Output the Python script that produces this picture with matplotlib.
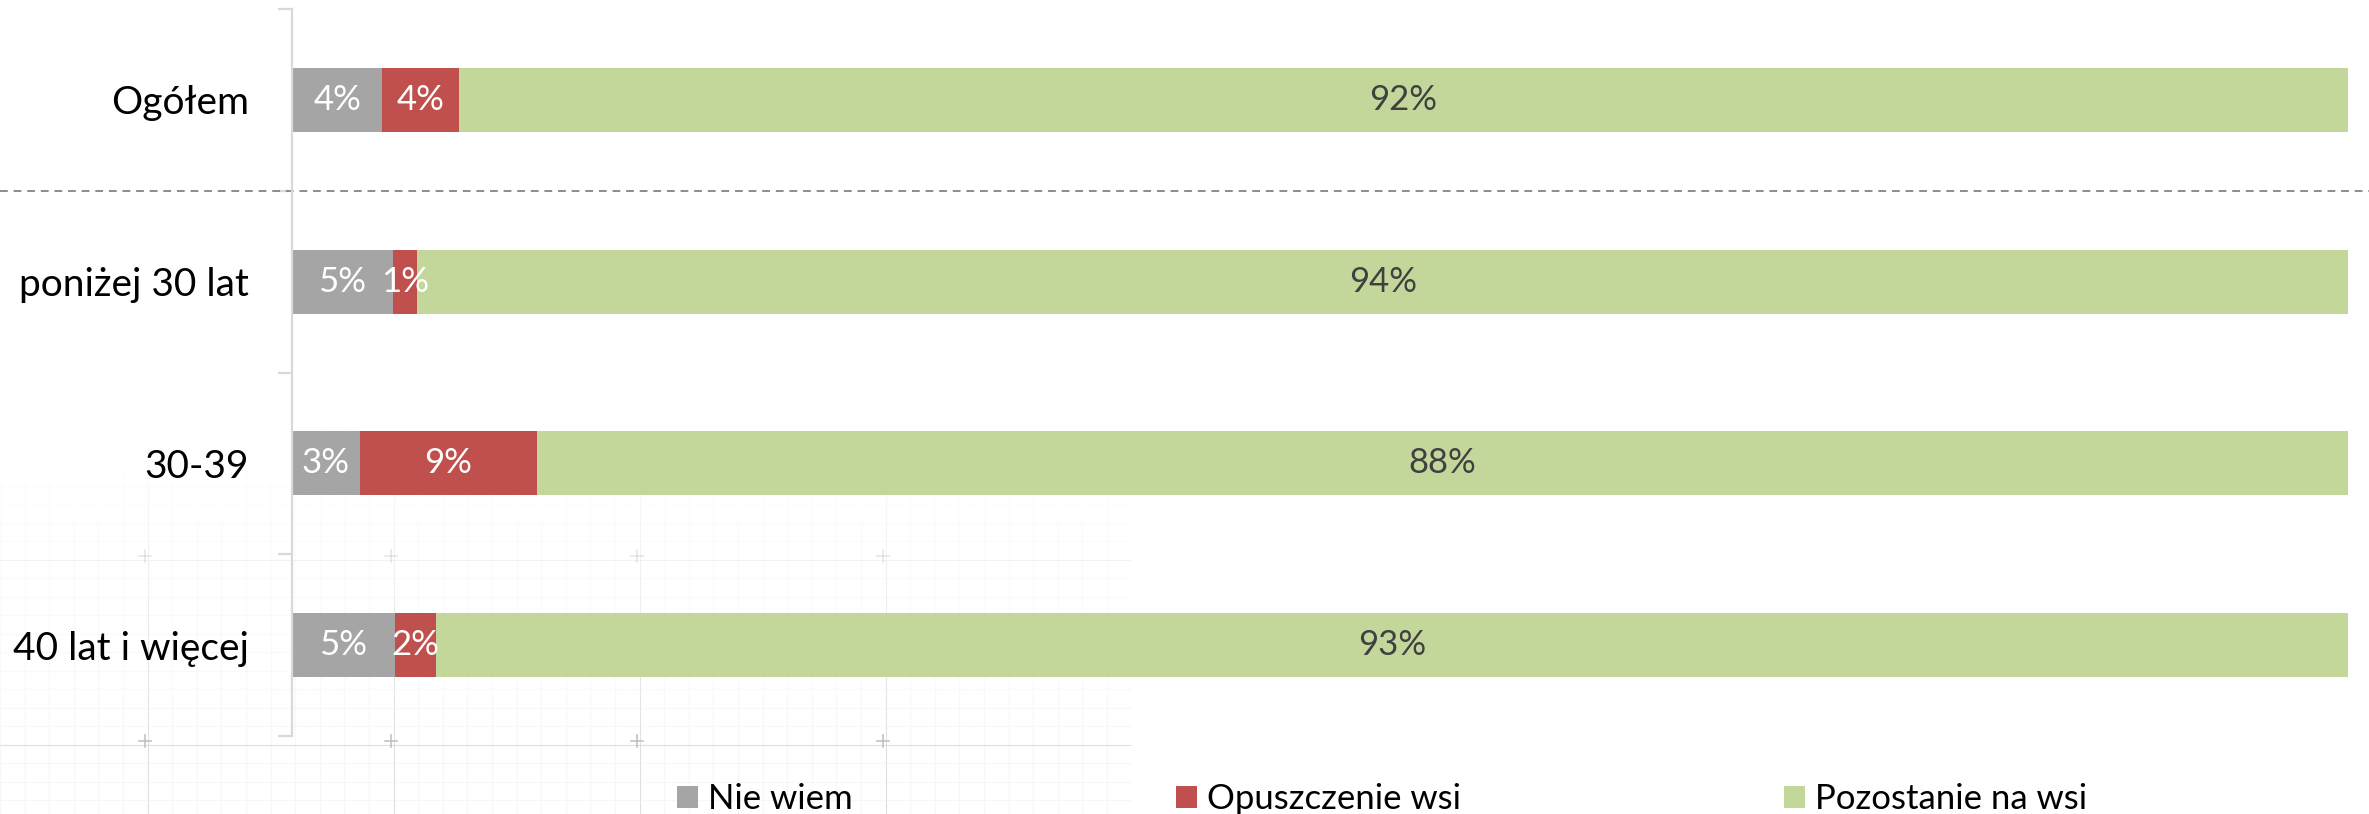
import numpy as np
import matplotlib
matplotlib.use("Agg")
import matplotlib.pyplot as plt
import matplotlib.transforms as mtransforms
from matplotlib.collections import LineCollection
from matplotlib.patches import Patch

# ---- DATA ----
categories = ["Ogółem", "poniżej 30 lat", "30-39", "40 lat i więcej"]
series_names = ["Nie wiem", "Opuszczenie wsi", "Pozostanie na wsi"]
nie_wiem = [4.4, 4.9, 3.3, 5.0]
opuszczenie = [3.7, 1.2, 8.6, 2.0]
pozostanie = [91.9, 93.9, 88.1, 93.0]

COLORS = ["#A5A5A5", "#C0504D", "#C4D79B"]
LABEL_COLORS = ["white", "white", "#404040"]
FONT = ["Lato", "DejaVu Sans"]

plt.rcParams["font.family"] = FONT

W, H = 2369, 814
fig = plt.figure(figsize=(W / 100, H / 100), dpi=100)
fig.patch.set_facecolor("white")

# ---- faint grid-paper watermark in the lower left ----
bg = fig.add_axes([0, 0, 1, 1], zorder=-5)
bg.set_xlim(0, W)
bg.set_ylim(H, 0)
bg.axis("off")


def fade(y):
    return np.clip((y - 430) / 330, 0, 1)


segs, cols = [], []
ys = np.arange(430, H, 6)
for x in np.arange(0, 1131, 24.6):
    major = abs((x - 145) / 246 - round((x - 145) / 246)) < 0.02
    base = 0.84 if major else 0.94
    for y0 in ys:
        segs.append([(x, y0), (x, y0 + 6)])
        cols.append((base, base, base, fade(y0 + 3) * (0.8 if major else 0.5)))
for y in np.arange(430, H, 18.5):
    major = abs((y - 741) / 185 - round((y - 741) / 185)) < 0.02
    base = 0.84 if major else 0.94
    segs.append([(0, y), (1131, y)])
    cols.append((base, base, base, fade(y) * (0.8 if major else 0.5)))
bg.add_collection(LineCollection(segs, colors=cols, linewidths=0.8))
for px in [145, 391, 637, 883]:
    for py in [556, 741]:
        a = fade(py)
        bg.plot([px - 6, px + 6], [py, py], color=(0.75, 0.75, 0.75, a), lw=1.2)
        bg.plot([px, px], [py - 6, py + 6], color=(0.75, 0.75, 0.75, a), lw=1.2)

# ---- main chart ----
ax = fig.add_axes([292 / W, 1 - 736 / H, (2348 - 292) / W, (736 - 9) / H])
ax.set_facecolor("none")

y = np.arange(len(categories))
left = np.zeros(len(categories))
for vals, col, tcol in zip([nie_wiem, opuszczenie, pozostanie], COLORS, LABEL_COLORS):
    vals = np.array(vals)
    ax.barh(y, vals, left=left, height=0.352, color=col, edgecolor="none")
    for yi, l, v in zip(y, left, vals):
        ax.text(l + v / 2, yi, f"{v:.0f}%", ha="center", va="center",
                color=tcol, fontsize=25)
    left += vals

ax.set_xlim(0, 100)
ax.set_ylim(len(categories) - 0.5, -0.5)

for s in ["top", "right", "bottom"]:
    ax.spines[s].set_visible(False)
ax.spines["left"].set_color("#D9D9D9")
ax.spines["left"].set_linewidth(1.6)
ax.set_xticks([])

# ticks on category boundaries, labels in the middle
ax.set_yticks(np.arange(-0.5, len(categories), 1.0))
ax.set_yticklabels([])
ax.tick_params(axis="y", which="major", length=10, width=1.6, color="#D9D9D9")
ax.set_yticks(y, minor=True)
ax.set_yticklabels(categories, minor=True, fontsize=28, color="black")
ax.tick_params(axis="y", which="minor", length=0, pad=31)

# dashed separator across the whole figure
tr = mtransforms.blended_transform_factory(fig.transFigure, ax.transData)
ax.plot([0, 1], [0.5, 0.5], transform=tr, clip_on=False, color="#8C8C8C",
        lw=1.4, linestyle=(0, (4, 3)))

# ---- legend ----
handles = [Patch(facecolor=c, edgecolor="none") for c in COLORS]
fig.legend(handles, series_names, loc="center left", frameon=False,
           bbox_to_anchor=(677 / W, 15 / H), ncol=3, fontsize=25,
           handlelength=0.6, handleheight=0.6, handletextpad=0.3,
           columnspacing=9.3, borderpad=0, borderaxespad=0)

fig.savefig("out.png", dpi=100, facecolor="white")
